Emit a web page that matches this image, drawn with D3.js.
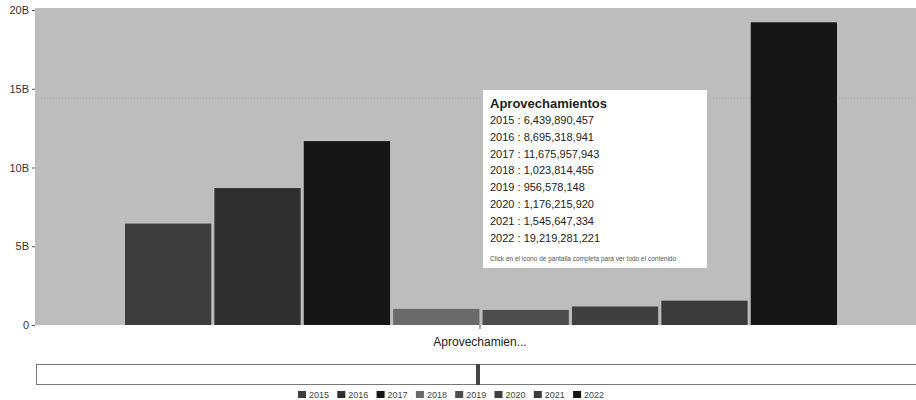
<!DOCTYPE html>
<html>
<head>
<meta charset="utf-8">
<script src="https://cdn.jsdelivr.net/npm/d3@7"></script>
<style>
  body { margin: 0; background: #fff; }
  svg { display: block; font-family: 'Liberation Sans', Arial, sans-serif; }
</style>
</head>
<body>
<script>
// data
const category = 'Aprovechamientos';
const years = ['2015', '2016', '2017', '2018', '2019', '2020', '2021', '2022'];
const values = [6439890457, 8695318941, 11675957943, 1023814455, 956578148, 1176215920, 1545647334, 19219281221];
const colors = ['#3d3d3d', '#2f2f2f', '#161616', '#6a6a6a', '#4d4d4d', '#3f3f3f', '#3a3a3a', '#161616'];
const yTicks = [0, 5e9, 10e9, 15e9, 20e9];
const cursorValue = 14.4e9;

const width = 916, height = 400;
const margin = {top: 10, right: -9, bottom: 75, left: 35};

const svg = d3.select('body').append('svg')
  .attr('width', width)
  .attr('height', height);

const yScale = d3.scaleLinear()
  .domain([0, 20e9])
  .range([height - margin.bottom, margin.top]);

const xScale = d3.scaleBand()
  .domain([category])
  .range([margin.left, width - margin.right])
  .paddingInner(0.2)
  .paddingOuter(0.1);

const xInner = d3.scaleBand()
  .domain(years)
  .range([0, xScale.bandwidth()])
  .paddingInner(0.035);

// plot background
svg.append('rect')
  .attr('x', margin.left)
  .attr('y', margin.top - 2)
  .attr('width', width - margin.left)
  .attr('height', yScale(0) - margin.top + 2)
  .attr('fill', '#bdbdbd');

// cursor line (behind the bars)
svg.append('line')
  .attr('x1', margin.left)
  .attr('x2', width)
  .attr('y1', yScale(cursorValue))
  .attr('y2', yScale(cursorValue))
  .attr('stroke', '#a8a8a8')
  .attr('stroke-dasharray', '1,2');

// bars
svg.append('g')
  .attr('transform', `translate(${xScale(category) + 1},0)`)
  .selectAll('rect')
  .data(values)
  .join('rect')
  .attr('x', (d, i) => xInner(years[i]))
  .attr('y', d => yScale(d))
  .attr('width', xInner.bandwidth())
  .attr('height', d => yScale(0) - yScale(d))
  .attr('fill', (d, i) => colors[i]);

// y axis
const yAxis = d3.axisLeft(yScale)
  .tickValues(yTicks)
  .tickSize(3)
  .tickFormat(d => d === 0 ? '0' : (d / 1e9) + 'B');

const yg = svg.append('g')
  .attr('transform', `translate(${margin.left},0)`)
  .call(yAxis);
yg.select('.domain').remove();
yg.selectAll('line').attr('stroke', '#555');
yg.selectAll('text').attr('fill', '#333').style('font-size', '11px');

// x axis
const xAxis = d3.axisBottom(xScale).tickSize(4).tickFormat(d => d.slice(0, 13) + '...');
const xg = svg.append('g')
  .attr('transform', `translate(0,${yScale(0)})`)
  .call(xAxis);
xg.select('.domain').remove();
xg.selectAll('line').attr('stroke', '#555');
xg.selectAll('text').attr('fill', '#222').attr('dy', '1.2em').style('font-size', '12px');

// tooltip
const tip = svg.append('g').attr('transform', 'translate(483,90)');
tip.append('rect')
  .attr('width', 224)
  .attr('height', 178)
  .attr('fill', '#fff');
tip.append('text')
  .attr('x', 7)
  .attr('y', 18)
  .style('font-size', '13px')
  .style('font-weight', 'bold')
  .attr('fill', '#222')
  .text(category);
tip.selectAll('.row')
  .data(values)
  .join('text')
  .attr('class', 'row')
  .attr('x', 7)
  .attr('y', (d, i) => 34 + i * 16.8)
  .style('font-size', '11px')
  .attr('fill', '#222')
  .text((d, i) => years[i] + ' : ' + d3.format(',')(d));
tip.append('text')
  .attr('x', 7)
  .attr('y', 171)
  .style('font-size', '6.5px')
  .attr('fill', '#555')
  .text('Click en el icono de pantalla completa para ver todo el contenido');

// scroll brush
svg.append('rect')
  .attr('x', 36.5)
  .attr('y', 364.5)
  .attr('width', 890)
  .attr('height', 20)
  .attr('fill', '#fff')
  .attr('stroke', '#777');
svg.append('rect')
  .attr('x', 476)
  .attr('y', 364)
  .attr('width', 4)
  .attr('height', 21)
  .attr('fill', '#444');

// legend
const legend = svg.append('g').attr('transform', 'translate(298,395)');
const item = legend.selectAll('g')
  .data(years)
  .join('g')
  .attr('transform', (d, i) => `translate(${i * 39.3},0)`);
item.append('rect')
  .attr('x', 0)
  .attr('y', -4)
  .attr('width', 8)
  .attr('height', 7)
  .attr('fill', (d, i) => colors[i]);
item.append('text')
  .attr('x', 11)
  .attr('y', 3)
  .style('font-size', '9px')
  .attr('fill', '#444')
  .text(d => d);
</script>
</body>
</html>
